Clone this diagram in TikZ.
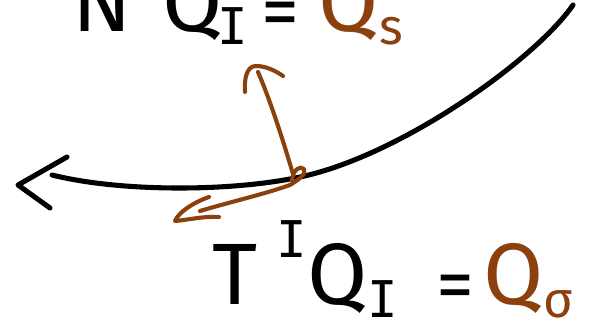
\documentclass[tikz,border=0pt]{standalone}
\usepackage{fontspec}
\usepackage{tikz}
\usetikzlibrary{positioning}
\newfontfamily\handfont{Fira Sans}
\newfontfamily\idxfont{DejaVu Sans Mono}
\definecolor{qbrown}{RGB}{139,64,14}
\newcommand{\upidx}[1]{\raisebox{0.55em}{\idxfont\fontsize{36}{36}\selectfont #1}}
\newcommand{\dnidx}[1]{\raisebox{-0.14em}{\fontsize{36}{36}\selectfont #1}}
\newcommand{\eqsign}{\raisebox{-0.06em}{\fontsize{54}{54}\selectfont =}}

\begin{document}
\begin{tikzpicture}[
  x=0.025cm, y=-0.025cm,
  curve/.style={line width=3.6pt, line cap=round, line join=round},
  vec/.style={draw=qbrown, line width=2.9pt, line cap=round, line join=round},
  eqn/.style={anchor=base west, inner sep=0pt, font=\handfont\fontsize{62}{66}\selectfont}
]
\useasboundingbox (0,0) rectangle (605,327);
\clip (0,0) rectangle (605,327);

% Boundary curve
\coordinate (cleft) at (52,175);
\coordinate (foot) at (300,177);
\coordinate (ctop) at (573,5);
\draw[curve] (cleft) .. controls (120,192) and (230,192) .. (foot)
  .. controls (400,156) and (535,60) .. (ctop);
\draw[curve] (67,157) -- (18,185) -- (50,208);

% Normal vector
\coordinate (nbase) at (293,174);
\coordinate (ntip) at (258,72);
\draw[vec] (nbase) .. controls (280,130) and (268,95) .. (ntip);
\draw[vec] (245,92) .. controls (244,78) and (247,66) .. (256,66)
  .. controls (266,66) and (276,71) .. (283,76);

% Tangent vector
\coordinate (tbase) at (290,185);
\coordinate (ttip) at (200,211);
\draw[vec] (292,180) .. controls (293,170) and (300,165) .. (304,169)
  .. controls (307,174) and (298,180) .. (tbase);
\draw[vec] (tbase) .. controls (265,194) and (230,202) .. (ttip);
\draw[vec] (209,197) .. controls (192,203) and (178,213) .. (175,221)
  .. controls (188,220) and (203,216) .. (219,217);

% Projections
\node[eqn] (normeq) at (72,32)
  {N\upidx{I}Q\hspace{-0.06em}\dnidx{\idxfont I}\hspace{0.16em}\eqsign\hspace{0.22em}\textcolor{qbrown}{Q\dnidx{s}}};
\node[eqn] (tangeq) at (212,305)
  {T\hspace{0.22em}\upidx{I}Q\dnidx{\idxfont I}\hspace{0.45em}\eqsign\hspace{0.1em}\textcolor{qbrown}{Q\dnidx{σ}}};
\end{tikzpicture}
\end{document}
